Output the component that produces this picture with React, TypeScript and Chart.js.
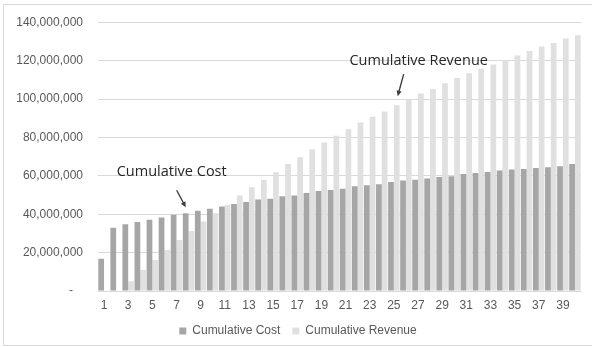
import React, { useEffect, useRef } from "react";
import { Chart, registerables } from "chart.js";

Chart.register(...registerables);

// Period numbers along the x axis
const periods: string[] = [
  "1", "2", "3", "4", "5", "6", "7", "8", "9", "10",
  "11", "12", "13", "14", "15", "16", "17", "18", "19", "20",
  "21", "22", "23", "24", "25", "26", "27", "28", "29", "30",
  "31", "32", "33", "34", "35", "36", "37", "38", "39", "40",
];

// Cumulative cost per period (millions)
const cumulativeCostM: number[] = [
  16.8, 33.0, 34.8, 36.0, 37.1, 38.3, 39.7, 40.5, 41.8, 42.8,
  44.0, 45.3, 46.3, 47.6, 48.1, 49.3, 49.8, 51.0, 52.1, 52.6,
  53.3, 54.5, 55.1, 55.6, 56.8, 57.5, 58.0, 58.6, 59.4, 59.8,
  61.0, 61.5, 62.0, 62.8, 63.3, 63.5, 64.1, 64.5, 65.0, 66.2,
];

// Cumulative revenue per period (millions)
const cumulativeRevenueM: number[] = [
  0, 0, 5.1, 10.9, 16.1, 21.3, 26.6, 31.3, 36.2, 40.5,
  44.9, 49.8, 54.0, 58.0, 61.9, 66.1, 69.7, 73.8, 77.3, 80.8,
  84.3, 87.7, 90.7, 93.5, 96.8, 100.0, 102.9, 105.2, 108.2, 111.0,
  113.4, 115.7, 118.0, 120.1, 122.7, 125.0, 127.4, 129.2, 131.5, 133.2,
];

const seriesNames: string[] = ["Cumulative Cost", "Cumulative Revenue"];

// Y axis range and step
const yMax = 140000000;
const yStep = 20000000;

// Callout labels: which series / period each arrow points at
const callouts = [
  { text: "Cumulative Cost", dataset: 0, index: 7, textDx: -14, textDy: -41, fromDx: -9, fromDy: -23, toDx: 0, toDy: -6 },
  { text: "Cumulative Revenue", dataset: 1, index: 24, textDx: 22, textDy: -44, fromDx: 7, fromDy: -31, toDx: 1, toDy: -9 },
];

const calloutPlugin = {
  id: "callouts",
  afterDatasetsDraw(chart: any) {
    const ctx = chart.ctx as CanvasRenderingContext2D;
    ctx.save();
    for (const c of callouts) {
      const bar = chart.getDatasetMeta(c.dataset).data[c.index];
      if (!bar) continue;
      const bx = bar.x;
      const by = bar.y;
      // label text
      ctx.font = "14.5px 'Open Sans', sans-serif";
      ctx.fillStyle = "#262626";
      ctx.textAlign = "center";
      ctx.textBaseline = "middle";
      ctx.fillText(c.text, bx + c.textDx, by + c.textDy);
      // arrow
      const x1 = bx + c.fromDx, y1 = by + c.fromDy;
      const x2 = bx + c.toDx, y2 = by + c.toDy;
      const ang = Math.atan2(y2 - y1, x2 - x1);
      const head = 6;
      ctx.strokeStyle = "#404040";
      ctx.fillStyle = "#404040";
      ctx.lineWidth = 1.4;
      ctx.beginPath();
      ctx.moveTo(x1, y1);
      ctx.lineTo(x2 - Math.cos(ang) * head * 0.8, y2 - Math.sin(ang) * head * 0.8);
      ctx.stroke();
      ctx.beginPath();
      ctx.moveTo(x2, y2);
      ctx.lineTo(x2 - head * Math.cos(ang - 0.45), y2 - head * Math.sin(ang - 0.45));
      ctx.lineTo(x2 - head * Math.cos(ang + 0.45), y2 - head * Math.sin(ang + 0.45));
      ctx.closePath();
      ctx.fill();
    }
    ctx.restore();
  },
};

const PAD_LEFT = 15;

export default function App() {
  const canvasRef = useRef<HTMLCanvasElement | null>(null);

  useEffect(() => {
    document.body.style.margin = "0";
    const canvas = canvasRef.current;
    if (!canvas) return;
    const tickFont = { family: "'Liberation Sans', Arial, sans-serif", size: 12 };
    const chart = new Chart(canvas, {
      type: "bar",
      data: {
        labels: periods,
        datasets: [
          {
            label: seriesNames[0],
            data: cumulativeCostM.map((v) => v * 1000000),
            backgroundColor: "#a6a6a6",
            borderWidth: 0,
            categoryPercentage: 0.95,
            barPercentage: 1.0,
          },
          {
            label: seriesNames[1],
            data: cumulativeRevenueM.map((v) => v * 1000000),
            backgroundColor: "#e0e0e0",
            borderWidth: 0,
            categoryPercentage: 0.95,
            barPercentage: 1.0,
          },
        ],
      },
      options: {
        responsive: false,
        animation: false,
        layout: { padding: { left: PAD_LEFT, right: 11, top: 22, bottom: 0 } },
        plugins: {
          tooltip: { enabled: false },
          legend: {
            position: "bottom",
            labels: {
              boxWidth: 7,
              boxHeight: 7,
              padding: 12,
              color: "#595959",
              font: tickFont,
            },
          },
        },
        scales: {
          x: {
            grid: { display: false, drawTicks: false },
            border: { display: true, color: "#d9d9d9" },
            ticks: {
              autoSkip: false,
              maxRotation: 0,
              padding: 7,
              color: "#595959",
              font: tickFont,
              callback: (_v: any, i: number) => (i % 2 === 0 ? periods[i] : ""),
            },
            afterFit: (scale: any) => {
              scale.height = 22;
            },
          },
          y: {
            min: 0,
            max: yMax,
            grid: { color: "#d9d9d9", drawTicks: false },
            border: { display: false },
            ticks: {
              stepSize: yStep,
              padding: 15,
              color: "#595959",
              font: tickFont,
              callback: (v: any) => (Number(v) === 0 ? "-   " : Number(v).toLocaleString("en-US")),
            },
            afterFit: (scale: any) => {
              scale.width = 98 - PAD_LEFT;
            },
          },
        },
      },
      plugins: [calloutPlugin],
    });
    return () => chart.destroy();
  }, []);

  return (
    <div style={{ position: "absolute", left: 0, top: 0, width: 592, height: 347, background: "#fff", overflow: "hidden" }}>
      <canvas ref={canvasRef} width={592} height={347} style={{ position: "absolute", left: 0, top: 0 }} />
      <div
        style={{
          position: "absolute",
          left: 3,
          top: 4,
          width: 600,
          height: 342,
          border: "1px solid #d9d9d9",
          boxSizing: "border-box",
          pointerEvents: "none",
        }}
      />
    </div>
  );
}
